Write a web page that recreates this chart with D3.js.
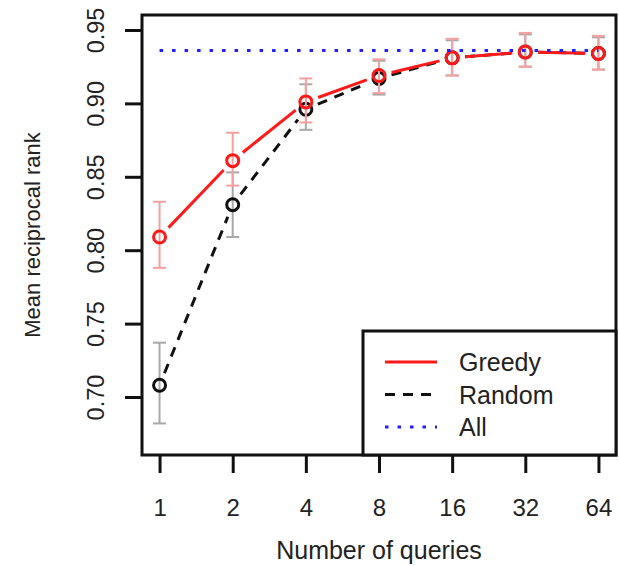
<!DOCTYPE html>
<html>
<head>
<meta charset="utf-8">
<script src="https://cdn.jsdelivr.net/npm/d3@7"></script>
<style>
  body { margin: 0; background: #fff; }
  text { font-family: "Liberation Sans", Arial, Helvetica, sans-serif; fill: #222; }
</style>
</head>
<body>
<script>
// chart data
var queries = [1, 2, 4, 8, 16, 32, 64];
var greedy   = [0.809, 0.861, 0.901, 0.919, 0.931, 0.935, 0.934];
var greedyLo = [0.788, 0.844, 0.887, 0.907, 0.919, 0.925, 0.923];
var greedyHi = [0.833, 0.880, 0.917, 0.930, 0.944, 0.948, 0.946];
var random   = [0.708, 0.831, 0.896, 0.917, 0.931, 0.935, 0.934];
var randomLo = [0.682, 0.809, 0.882, 0.906, 0.919, 0.925, 0.923];
var randomHi = [0.737, 0.853, 0.913, 0.929, 0.943, 0.947, 0.945];
var allValue = 0.936;
var yTicks = [0.70, 0.75, 0.80, 0.85, 0.90, 0.95];
var legendNames = ["Greedy", "Random", "All"];

function drawChart() {
   var width = 619, height = 566;
   var left = 142, right = 616, top = 15, bottom = 455;

   var svg = d3.select("body")
               .append("svg")
                  .attr("width", width)
                  .attr("height", height);

   // log2 x axis with R-style 4% padding
   var x = d3.scaleLog().base(2)
            .domain([Math.pow(2, -0.24), Math.pow(2, 6.24)])
            .range([left, right]);

   var y = d3.scaleLinear()
            .domain([0.6605, 0.9602])
            .range([bottom, top]);

   // y axis
   var yAxis = d3.axisLeft(y)
         .tickValues(yTicks)
         .tickSize(17)
         .tickFormat(d3.format(".2f"));

   var gy = svg.append("g")
      .attr("transform", "translate(" + left + ",0)")
      .call(yAxis);
   gy.select(".domain").remove();
   gy.selectAll("line").attr("stroke", "#111").attr("stroke-width", 3);
   gy.selectAll("text")
      .attr("transform", "rotate(-90)")
      .attr("x", 0)
      .attr("y", -46)
      .attr("dy", null)
      .attr("text-anchor", "middle")
      .attr("dominant-baseline", "central")
      .style("font-size", "23.5px")
      .style("fill", "#222");

   // x axis
   var xAxis = d3.axisBottom(x)
         .tickValues(queries)
         .tickSize(18)
         .tickFormat(function(d) { return String(d); });

   var gx = svg.append("g")
      .attr("transform", "translate(0," + bottom + ")")
      .call(xAxis);
   gx.select(".domain").remove();
   gx.selectAll("line").attr("stroke", "#111").attr("stroke-width", 3);
   gx.selectAll("text")
      .attr("y", 52)
      .attr("dy", null)
      .attr("dominant-baseline", "central")
      .style("font-size", "24px")
      .style("fill", "#222");

   // axis titles
   svg.append("text")
      .attr("x", (left + right) / 2)
      .attr("y", 550)
      .attr("text-anchor", "middle")
      .attr("dominant-baseline", "central")
      .style("font-size", "25px")
      .text("Number of queries");

   svg.append("text")
      .attr("transform", "translate(32," + ((top + bottom) / 2) + ") rotate(-90)")
      .attr("text-anchor", "middle")
      .attr("dominant-baseline", "central")
      .style("font-size", "22px")
      .text("Mean reciprocal rank");

   var plot = svg.append("g");

   // type="b" style segments with gaps round the points
   function segments(vals) {
      var segs = [];
      for (var i = 0; i < vals.length - 1; i++) {
         var x1 = x(queries[i]), y1 = y(vals[i]);
         var x2 = x(queries[i + 1]), y2 = y(vals[i + 1]);
         var dx = x2 - x1, dy = y2 - y1, len = Math.sqrt(dx * dx + dy * dy);
         var g = 13;
         if (len > 2 * g) {
            segs.push({ x1: x1 + dx * g / len, y1: y1 + dy * g / len,
                        x2: x2 - dx * g / len, y2: y2 - dy * g / len });
         }
      }
      return segs;
   }

   function errorBars(lo, hi, color) {
      var g = plot.append("g")
         .attr("stroke", color)
         .attr("stroke-width", 2);
      queries.forEach(function(q, i) {
         var cx = x(q);
         g.append("line").attr("x1", cx).attr("x2", cx)
            .attr("y1", y(lo[i])).attr("y2", y(hi[i]));
         g.append("line").attr("x1", cx - 6.5).attr("x2", cx + 6.5)
            .attr("y1", y(lo[i])).attr("y2", y(lo[i]));
         g.append("line").attr("x1", cx - 6.5).attr("x2", cx + 6.5)
            .attr("y1", y(hi[i])).attr("y2", y(hi[i]));
      });
   }

   function series(vals, color, dash) {
      plot.append("g").selectAll("line")
         .data(segments(vals))
         .enter().append("line")
            .attr("x1", function(d) { return d.x1; })
            .attr("y1", function(d) { return d.y1; })
            .attr("x2", function(d) { return d.x2; })
            .attr("y2", function(d) { return d.y2; })
            .attr("stroke", color)
            .attr("stroke-width", 3)
            .attr("stroke-dasharray", dash);
      plot.append("g").selectAll("circle")
         .data(vals)
         .enter().append("circle")
            .attr("cx", function(d, i) { return x(queries[i]); })
            .attr("cy", function(d) { return y(d); })
            .attr("r", 6)
            .attr("fill", "none")
            .attr("stroke", color)
            .attr("stroke-width", 3);
   }

   // random first, greedy over it
   errorBars(randomLo, randomHi, "#a8a8a8");
   series(random, "#111", "10,8");
   errorBars(greedyLo, greedyHi, "#f5a0a0");
   series(greedy, "#ff1a1a", null);

   // "All" reference line
   plot.append("line")
      .attr("x1", x(queries[0]))
      .attr("x2", x(queries[queries.length - 1]))
      .attr("y1", y(allValue))
      .attr("y2", y(allValue))
      .attr("stroke", "#2020ff")
      .attr("stroke-width", 3)
      .attr("stroke-dasharray", "3.5,9");

   // plot frame
   svg.append("rect")
      .attr("x", left).attr("y", top)
      .attr("width", right - left).attr("height", bottom - top)
      .attr("fill", "none")
      .attr("stroke", "#111")
      .attr("stroke-width", 3);

   // legend
   var legend = svg.append("g");
   legend.append("rect")
      .attr("x", 363).attr("y", 331)
      .attr("width", right - 363).attr("height", bottom - 331)
      .attr("fill", "#fff")
      .attr("stroke", "#111")
      .attr("stroke-width", 3);

   var legColors = ["#ff1a1a", "#111", "#2020ff"];
   var legDash = [null, "10,8", "3.5,9"];
   legendNames.forEach(function(name, i) {
      var ly = 362 + i * 32.5;
      legend.append("line")
         .attr("x1", 385).attr("x2", 437)
         .attr("y1", ly).attr("y2", ly)
         .attr("stroke", legColors[i])
         .attr("stroke-width", 3)
         .attr("stroke-dasharray", legDash[i]);
      legend.append("text")
         .attr("x", 459).attr("y", ly)
         .attr("dominant-baseline", "central")
         .style("font-size", "25px")
         .text(name);
   });
}

drawChart();
</script>
</body>
</html>
